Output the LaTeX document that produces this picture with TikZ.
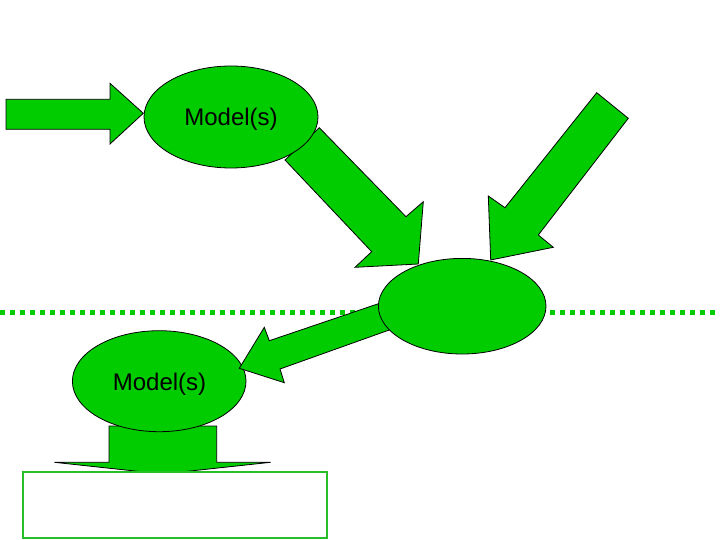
\documentclass[tikz,border=0pt]{standalone}
\usepackage{fontspec}
\setmainfont{Liberation Sans}
\usetikzlibrary{shapes.geometric}
\definecolor{pgreen}{RGB}{0,204,0}
\definecolor{rgreen}{RGB}{40,190,40}
\tikzset{
  blockarrow/.style={fill=pgreen, draw=black, line width=0.8pt, line join=miter},
  modelell/.style={ellipse, fill=pgreen, draw=black, line width=0.8pt, inner sep=0pt},
  modeltext/.style={anchor=base, font=\fontsize{24}{28}\selectfont, inner sep=0pt, text=black},
  dotline/.style={draw=pgreen, line width=4.5pt, dash pattern=on 5pt off 5pt},
  outbox/.style={draw=rgreen, line width=2pt, fill=white}
}
\begin{document}
\begin{tikzpicture}[x=1pt,y=-1pt]
\useasboundingbox (0,0) rectangle (720,540);
% dotted boundary line
\coordinate (dl) at (0,312.3);
\coordinate (dr) at (720,312.3);
\draw[dotline] (dl) -- (dr);
% input arrow (top-left)
\draw[blockarrow] (6,99.3) -- (110,99.3) -- (110,83.3) -- (143.3,113.3) -- (110,144) -- (110,129.3) -- (6,129.3) -- cycle;
% arrow from model 1 down-right
\draw[blockarrow] (319.3,127.7) -- (406,216.7) -- (423.3,201.7) -- (418.3,264) -- (355,267.3) -- (371.7,251.7) -- (285,160) -- cycle;
% arrow from top-right down-left
\draw[blockarrow] (596.7,92.7) -- (628.3,118.3) -- (538.3,235) -- (553.3,247.3) -- (490.7,260) -- (488.3,196) -- (505,207.7) -- cycle;
% down arrow from model 2
\draw[blockarrow] (109,426) -- (216.7,426) -- (216.7,462.3) -- (270.7,462.3) -- (162.5,474) -- (54.3,462.3) -- (109,462.3) -- cycle;
% ellipses
\node[modelell, minimum width=174pt, minimum height=102pt] (m1) at (231,117) {};
\node[modeltext] (t1) at (231,125.8) {Model(s)};
\node[modelell, minimum width=173.6pt, minimum height=101pt] (m2) at (159.2,381.2) {};
\node[modeltext] (t2) at (159.5,390.3) {Model(s)};
% arrow from centre ellipse to model 2
\draw[blockarrow] (239.3,368.3) -- (264.3,327.3) -- (269.3,340.7) -- (410,293) -- (420,319) -- (280,369) -- (284.3,382.7) -- cycle;
\node[modelell, minimum width=167.6pt, minimum height=95.6pt] (c) at (462.2,306.2) {};
% output box
\node[outbox, minimum width=304pt, minimum height=66pt, inner sep=0pt] (out) at (175.3,505.3) {};
\end{tikzpicture}
\end{document}
